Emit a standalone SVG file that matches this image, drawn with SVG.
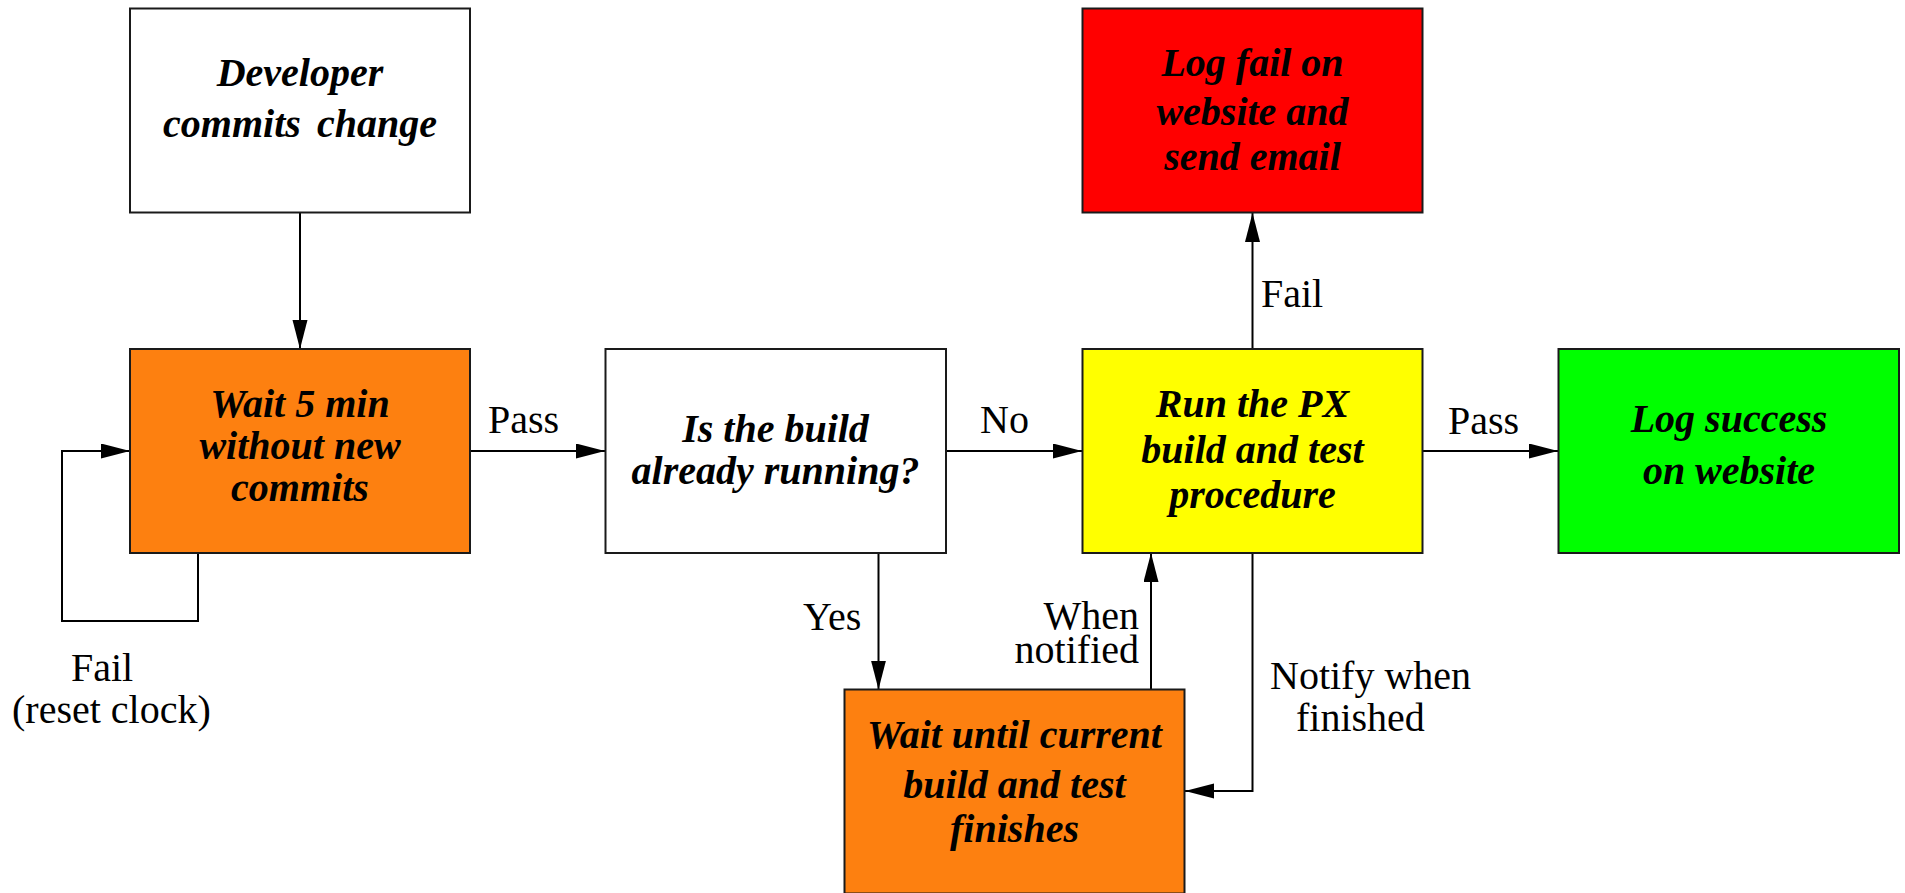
<svg xmlns="http://www.w3.org/2000/svg" width="1905" height="893" viewBox="0 0 1905 893">
  <defs>
    <marker id="arrow" markerUnits="userSpaceOnUse" markerWidth="30" markerHeight="16" refX="29" refY="7.5" orient="auto">
      <path d="M0,0 L29,7.5 L0,15 Z" fill="#000"/>
    </marker>
    <style>
      .box { stroke: #1a1a1a; stroke-width: 2; }
      .white { fill: #ffffff; }
      .orange { fill: #fd8010; }
      .yellow { fill: #ffff00; }
      .red { fill: #ff0000; }
      .green { fill: #00ff00; }
      .title { font-family: "Liberation Serif", "Times New Roman", serif; font-weight: bold; font-style: italic; font-size: 40px; fill: #000; text-anchor: middle; }
      .label { font-family: "Liberation Serif", "Times New Roman", serif; font-size: 40px; fill: #000; }
      .wire { fill: none; stroke: #000; stroke-width: 2; marker-end: url(#arrow); }
    </style>
  </defs>
  <rect width="1905" height="893" fill="#ffffff"/>

  <!-- Connectors -->
  <g id="connectors">
    <line class="wire" x1="300" y1="213" x2="300" y2="349"/>
    <line class="wire" x1="470" y1="451" x2="605" y2="451"/>
    <line class="wire" x1="946" y1="451" x2="1082" y2="451"/>
    <line class="wire" x1="1423" y1="451" x2="1558" y2="451"/>
    <line class="wire" x1="1252.5" y1="349" x2="1252.5" y2="213"/>
    <line class="wire" x1="878.5" y1="553" x2="878.5" y2="689.5"/>
    <line class="wire" x1="1151" y1="689.5" x2="1151" y2="553"/>
    <polyline class="wire" points="1252.5,553 1252.5,791 1185,791"/>
    <polyline class="wire" points="198,553 198,621 62,621 62,451 130,451"/>

    <text class="label" x="488" y="433">Pass</text>
    <text class="label" x="980" y="433">No</text>
    <text class="label" x="1448" y="434">Pass</text>
    <text class="label" x="1261" y="307">Fail</text>
    <text class="label" x="803" y="630">Yes</text>
    <text class="label" x="1139" y="629" text-anchor="end">When</text>
    <text class="label" x="1139" y="663" text-anchor="end">notified</text>
    <text class="label" x="1270" y="689">Notify when</text>
    <text class="label" x="1296" y="731">finished</text>
    <text class="label" x="71" y="681">Fail</text>
    <text class="label" x="12" y="723">(reset clock)</text>
  </g>

  <!-- Nodes -->
  <g id="developer-commits">
    <rect class="box white" x="130" y="8.5" width="340" height="204"/>
    <text class="title" x="300" y="86">Developer</text>
    <text class="title" x="300" y="136.5" word-spacing="6">commits change</text>
  </g>

  <g id="wait-five-min">
    <rect class="box orange" x="130" y="349" width="340" height="204"/>
    <text class="title" x="300" y="417">Wait 5 min</text>
    <text class="title" x="300" y="459">without new</text>
    <text class="title" x="300" y="501">commits</text>
  </g>

  <g id="build-running">
    <rect class="box white" x="605.5" y="349" width="340.5" height="204"/>
    <text class="title" x="775.5" y="442">Is the build</text>
    <text class="title" x="775.5" y="484">already running?</text>
  </g>

  <g id="run-px">
    <rect class="box yellow" x="1082.5" y="349" width="340" height="204"/>
    <text class="title" x="1252.5" y="417">Run the PX</text>
    <text class="title" x="1252.5" y="463">build and test</text>
    <text class="title" x="1252.5" y="508">procedure</text>
  </g>

  <g id="log-success">
    <rect class="box green" x="1558.5" y="349" width="340.5" height="204"/>
    <text class="title" x="1729" y="432">Log success</text>
    <text class="title" x="1729" y="484">on website</text>
  </g>

  <g id="log-fail">
    <rect class="box red" x="1082.5" y="8.5" width="340" height="204"/>
    <text class="title" x="1252.5" y="76">Log fail on</text>
    <text class="title" x="1252.5" y="125">website and</text>
    <text class="title" x="1252.5" y="170">send email</text>
  </g>

  <g id="wait-current-build">
    <rect class="box orange" x="844.5" y="689.5" width="340" height="204"/>
    <text class="title" x="1014.5" y="748">Wait until current</text>
    <text class="title" x="1014.5" y="798">build and test</text>
    <text class="title" x="1014.5" y="842">finishes</text>
  </g>
</svg>
